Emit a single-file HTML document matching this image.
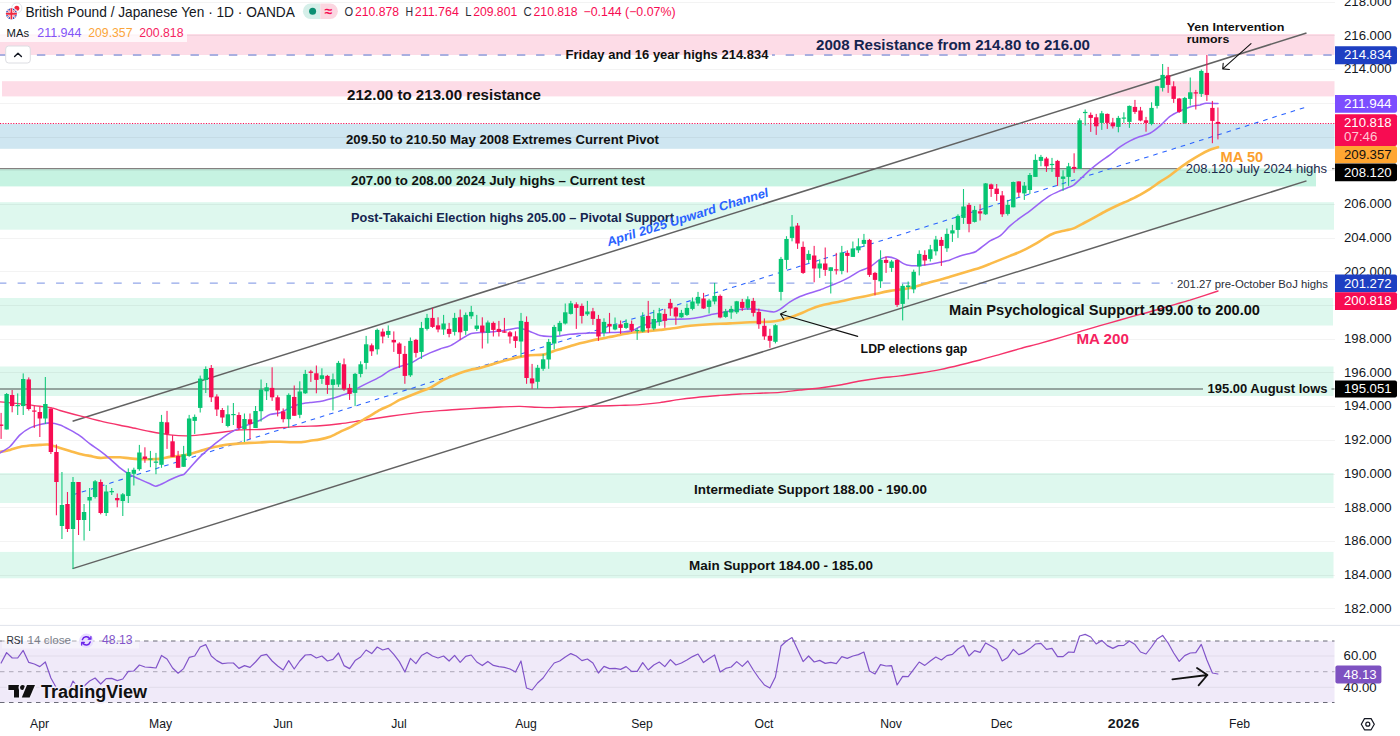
<!DOCTYPE html>
<html><head><meta charset="utf-8"><title>GBPJPY</title>
<style>html,body{margin:0;padding:0;background:#fff;}svg{display:block;font-family:'Liberation Sans', sans-serif;}</style>
</head><body>
<svg width="1400" height="736" viewBox="0 0 1400 736" font-family="'Liberation Sans', sans-serif">
<rect x="0" y="0" width="1400" height="736" fill="#ffffff" />
<rect x="0" y="34" width="1334.5" height="21" fill="#fddce7" />
<rect x="2" y="81.2" width="1332.5" height="15.2" fill="#fddce7" />
<rect x="0" y="123.9" width="1334.5" height="24.9" fill="#cfe6f1" />
<rect x="0" y="168.3" width="1316" height="18.1" fill="#c6f3e2" />
<rect x="0" y="202.2" width="1334.0" height="27.5" fill="#def8ee" />
<rect x="0" y="298" width="1333.0" height="27.5" fill="#def8ee" />
<rect x="0" y="366.5" width="1333.5" height="29.5" fill="#def8ee" />
<rect x="0" y="473" width="1333.5" height="30" fill="#def8ee" />
<rect x="0" y="551.9" width="1333.5" height="26.4" fill="#def8ee" />
<line x1="0" y1="608.5" x2="1335.0" y2="608.5" stroke="#000000" stroke-width="1" stroke-opacity="0.048"/>
<line x1="0" y1="575.5" x2="1335.0" y2="575.5" stroke="#000000" stroke-width="1" stroke-opacity="0.048"/>
<line x1="0" y1="541.5" x2="1335.0" y2="541.5" stroke="#000000" stroke-width="1" stroke-opacity="0.048"/>
<line x1="0" y1="507.5" x2="1335.0" y2="507.5" stroke="#000000" stroke-width="1" stroke-opacity="0.048"/>
<line x1="0" y1="474.5" x2="1335.0" y2="474.5" stroke="#000000" stroke-width="1" stroke-opacity="0.048"/>
<line x1="0" y1="440.5" x2="1335.0" y2="440.5" stroke="#000000" stroke-width="1" stroke-opacity="0.048"/>
<line x1="0" y1="406.5" x2="1335.0" y2="406.5" stroke="#000000" stroke-width="1" stroke-opacity="0.048"/>
<line x1="0" y1="372.5" x2="1335.0" y2="372.5" stroke="#000000" stroke-width="1" stroke-opacity="0.048"/>
<line x1="0" y1="339.5" x2="1335.0" y2="339.5" stroke="#000000" stroke-width="1" stroke-opacity="0.048"/>
<line x1="0" y1="305.5" x2="1335.0" y2="305.5" stroke="#000000" stroke-width="1" stroke-opacity="0.048"/>
<line x1="0" y1="271.5" x2="1335.0" y2="271.5" stroke="#000000" stroke-width="1" stroke-opacity="0.048"/>
<line x1="0" y1="238.5" x2="1335.0" y2="238.5" stroke="#000000" stroke-width="1" stroke-opacity="0.048"/>
<line x1="0" y1="204.5" x2="1335.0" y2="204.5" stroke="#000000" stroke-width="1" stroke-opacity="0.048"/>
<line x1="0" y1="170.5" x2="1335.0" y2="170.5" stroke="#000000" stroke-width="1" stroke-opacity="0.048"/>
<line x1="0" y1="137.5" x2="1335.0" y2="137.5" stroke="#000000" stroke-width="1" stroke-opacity="0.048"/>
<line x1="0" y1="103.5" x2="1335.0" y2="103.5" stroke="#000000" stroke-width="1" stroke-opacity="0.048"/>
<line x1="0" y1="69.5" x2="1335.0" y2="69.5" stroke="#000000" stroke-width="1" stroke-opacity="0.048"/>
<line x1="0" y1="35.5" x2="1335.0" y2="35.5" stroke="#000000" stroke-width="1" stroke-opacity="0.048"/>
<line x1="0" y1="2.5" x2="1335.0" y2="2.5" stroke="#000000" stroke-width="1" stroke-opacity="0.048"/>
<rect x="0" y="641" width="1334.5" height="61.5" fill="#f0eaf9" />
<line x1="0" y1="656" x2="1334.5" y2="656" stroke="#000000" stroke-width="1" stroke-opacity="0.06"/>
<line x1="0" y1="687.3" x2="1334.5" y2="687.3" stroke="#000000" stroke-width="1" stroke-opacity="0.06"/>
<line x1="0" y1="641" x2="1334.5" y2="641" stroke="#6b6b78" stroke-width="1.2" stroke-dasharray="4.5 4.5"/>
<line x1="0" y1="702.5" x2="1334.5" y2="702.5" stroke="#6b6b78" stroke-width="1.2" stroke-dasharray="4.5 4.5"/>
<line x1="0" y1="671.7" x2="1334.5" y2="671.7" stroke="#b9b4c4" stroke-width="1.2" stroke-dasharray="4.5 4.5"/>
<line x1="0" y1="168.6" x2="1180.5" y2="168.6" stroke="#858080" stroke-width="1.3" />
<line x1="1332" y1="168.6" x2="1334.5" y2="168.6" stroke="#858080" stroke-width="1.3" />
<line x1="0" y1="389" x2="1203" y2="389" stroke="#7d8a84" stroke-width="1.4" />
<line x1="1331.5" y1="389" x2="1334.5" y2="389" stroke="#7d8a84" stroke-width="1.4" />
<line x1="-1.5" y1="55" x2="561" y2="55" stroke="#a9afe0" stroke-width="2" stroke-dasharray="8.4 10.8"/>
<line x1="772" y1="55" x2="1334.5" y2="55" stroke="#a9afe0" stroke-width="2" stroke-dasharray="8.4 10.8" stroke-dashoffset="5.5"/>
<line x1="-1.6" y1="283.1" x2="1173" y2="283.1" stroke="#93a7e9" stroke-width="1.3" stroke-dasharray="8 11.22"/>
<line x1="0" y1="123.5" x2="1334.5" y2="123.5" stroke="#f70c52" stroke-width="1" stroke-dasharray="1.15 1.49"/>
<line x1="72.6" y1="421.3" x2="1306.5" y2="33.0" stroke="#626262" stroke-width="1.5" />
<line x1="72.6" y1="568.6" x2="1306.5" y2="180.9" stroke="#626262" stroke-width="1.5" />
<line x1="72.6" y1="494.9" x2="1306.5" y2="107.0" stroke="#2962ff" stroke-width="1.05" stroke-dasharray="4.6 5"/>
<path d="M0.0 401.9 C5.3 402.4 14.7 403.3 20.0 403.9 C25.3 404.5 34.7 405.6 40.0 406.3 C43.2 406.7 48.8 407.2 52.0 407.9 C54.1 408.3 57.9 409.9 60.0 410.5 C65.3 412.0 74.7 414.5 80.0 415.9 C85.3 417.3 94.7 419.6 100.0 420.9 C105.3 422.2 114.7 424.2 120.0 425.3 C122.7 425.9 127.3 426.6 130.0 427.2 C135.3 428.3 144.7 430.5 150.0 431.5 C155.3 432.5 164.7 434.2 170.0 434.9 C174.3 435.4 181.7 435.9 186.0 435.9 C189.7 435.9 196.3 435.3 200.0 434.9 C205.3 434.4 214.7 433.2 220.0 432.5 C225.3 431.8 234.7 430.3 240.0 429.9 C245.3 429.5 254.7 429.8 260.0 429.5 C265.3 429.2 274.7 428.2 280.0 427.8 C285.3 427.4 294.7 426.7 300.0 426.4 C305.3 426.1 314.7 426.1 320.0 425.8 C325.3 425.5 334.7 424.5 340.0 423.8 C345.3 423.1 354.7 421.6 360.0 420.8 C365.3 420.0 374.7 418.5 380.0 417.7 C385.3 416.9 394.7 415.6 400.0 414.9 C405.3 414.2 414.7 413.0 420.0 412.4 C425.3 411.8 434.7 411.0 440.0 410.6 C445.3 410.2 454.7 409.5 460.0 409.2 C465.3 408.9 474.7 408.3 480.0 408.0 C485.3 407.7 494.7 407.2 500.0 407.0 C505.3 406.8 514.7 406.3 520.0 406.4 C525.3 406.5 534.7 407.2 540.0 407.4 C542.7 407.5 547.3 407.6 550.0 407.6 C552.7 407.6 557.3 407.3 560.0 407.2 C565.3 407.0 574.7 406.8 580.0 406.6 C585.3 406.4 594.7 406.2 600.0 406.0 C605.3 405.8 614.7 405.6 620.0 405.4 C625.3 405.2 634.7 405.0 640.0 404.6 C645.3 404.2 654.7 403.3 660.0 402.6 C665.3 401.9 674.7 400.1 680.0 399.4 C685.3 398.7 694.7 397.5 700.0 397.0 C705.3 396.5 714.7 395.8 720.0 395.4 C725.3 395.0 734.7 394.3 740.0 394.0 C745.3 393.7 754.7 393.4 760.0 393.2 C765.3 393.0 774.7 392.8 780.0 392.4 C785.3 392.0 794.7 390.6 800.0 390.0 C805.3 389.4 814.7 388.7 820.0 388.0 C825.3 387.3 834.7 385.9 840.0 385.0 C845.3 384.1 854.7 381.9 860.0 381.0 C865.3 380.1 874.7 378.7 880.0 378.0 C885.3 377.3 894.7 376.6 900.0 375.9 C905.3 375.2 914.7 373.8 920.0 373.0 C925.3 372.2 934.7 370.7 940.0 369.6 C945.3 368.5 954.7 366.3 960.0 365.0 C965.3 363.7 974.7 361.4 980.0 360.0 C985.3 358.6 994.7 355.9 1000.0 354.4 C1005.3 352.9 1014.7 350.1 1020.0 348.6 C1025.3 347.1 1034.7 344.9 1040.0 343.4 C1045.3 341.9 1054.7 339.2 1060.0 337.6 C1065.3 336.0 1074.7 333.2 1080.0 331.6 C1085.3 330.0 1094.7 327.1 1100.0 325.6 C1105.3 324.1 1114.7 321.5 1120.0 320.0 C1125.3 318.5 1134.7 315.9 1140.0 314.4 C1145.3 312.9 1154.7 310.5 1160.0 309.0 C1165.3 307.5 1174.7 304.6 1180.0 303.0 C1182.7 302.2 1187.3 301.0 1190.0 300.2 C1197.5 297.8 1210.5 293.5 1218.0 291.0" fill="none" stroke="#f5336b" stroke-width="1.4" stroke-linejoin="round" stroke-linecap="round" />
<path d="M0.0 451.9 C2.7 451.4 7.3 450.6 10.0 449.9 C12.7 449.2 17.3 447.5 20.0 446.9 C22.7 446.3 27.3 445.8 30.0 445.5 C32.7 445.2 37.3 445.0 40.0 444.9 C42.1 444.8 45.9 444.2 48.0 444.5 C51.2 445.0 56.8 447.0 60.0 447.9 C62.7 448.7 67.3 450.1 70.0 450.9 C72.7 451.7 77.3 453.2 80.0 453.9 C82.7 454.6 87.3 455.4 90.0 455.9 C92.7 456.4 97.3 457.7 100.0 457.9 C102.7 458.1 107.3 457.4 110.0 457.3 C112.7 457.2 117.3 457.2 120.0 457.3 C122.7 457.4 127.3 458.2 130.0 458.4 C132.7 458.6 137.3 459.0 140.0 459.1 C142.7 459.2 147.3 459.3 150.0 459.3 C152.7 459.3 157.3 459.2 160.0 458.9 C162.7 458.6 167.3 457.3 170.0 456.9 C172.7 456.5 177.3 456.3 180.0 455.9 C182.7 455.5 187.3 454.6 190.0 453.9 C192.7 453.2 197.3 451.7 200.0 450.9 C202.7 450.1 207.3 448.6 210.0 447.9 C212.7 447.2 217.3 446.4 220.0 445.9 C222.7 445.4 227.3 444.6 230.0 444.3 C232.7 444.0 237.3 443.7 240.0 443.5 C242.7 443.3 247.3 443.0 250.0 442.9 C252.7 442.8 257.3 442.6 260.0 442.5 C262.7 442.4 267.3 441.9 270.0 441.8 C272.7 441.7 277.3 441.7 280.0 441.8 C282.7 441.9 287.3 442.1 290.0 442.2 C292.7 442.3 297.3 442.4 300.0 442.2 C302.7 442.0 307.3 441.2 310.0 440.8 C312.7 440.4 317.3 439.9 320.0 439.4 C322.7 438.9 327.3 437.8 330.0 436.8 C332.7 435.8 337.3 433.1 340.0 431.8 C342.7 430.5 347.3 428.7 350.0 427.4 C352.7 426.1 357.3 423.3 360.0 421.8 C362.7 420.3 367.3 417.4 370.0 415.8 C372.7 414.2 377.3 411.2 380.0 409.8 C382.7 408.4 387.3 406.6 390.0 405.3 C392.7 404.0 397.3 401.0 400.0 399.7 C402.7 398.4 407.3 396.9 410.0 395.8 C412.7 394.7 417.3 392.9 420.0 391.8 C422.7 390.7 427.3 389.1 430.0 387.8 C432.7 386.5 437.3 383.3 440.0 381.8 C442.7 380.3 447.3 378.1 450.0 376.9 C452.7 375.7 457.3 373.8 460.0 372.9 C462.7 372.0 467.3 370.6 470.0 369.9 C472.7 369.2 477.3 368.6 480.0 367.9 C482.7 367.2 487.3 365.7 490.0 364.9 C492.7 364.1 497.3 362.6 500.0 361.9 C502.7 361.2 507.3 360.0 510.0 359.3 C512.7 358.6 517.3 357.4 520.0 356.9 C522.7 356.4 527.3 355.5 530.0 355.2 C532.7 354.9 537.3 355.1 540.0 354.9 C541.6 354.8 544.4 354.4 546.0 353.9 C548.1 353.3 551.9 351.6 554.0 350.9 C555.6 350.4 558.4 349.8 560.0 349.3 C562.7 348.5 567.3 347.1 570.0 346.3 C572.7 345.5 577.3 344.0 580.0 343.3 C582.7 342.6 587.3 341.5 590.0 340.9 C592.7 340.3 597.3 339.4 600.0 338.9 C602.7 338.4 607.3 337.4 610.0 336.9 C612.7 336.4 617.3 335.4 620.0 334.9 C622.7 334.4 627.3 333.3 630.0 332.9 C632.7 332.5 637.3 332.2 640.0 331.9 C642.7 331.6 647.3 331.2 650.0 330.9 C652.7 330.6 657.3 330.2 660.0 329.9 C662.7 329.6 667.3 329.2 670.0 328.8 C675.3 328.1 684.7 326.4 690.0 325.8 C695.3 325.2 704.7 324.5 710.0 324.2 C715.3 323.9 724.7 323.7 730.0 323.4 C735.3 323.1 744.7 322.4 750.0 322.2 C755.3 322.0 764.7 322.1 770.0 321.8 C772.7 321.6 777.3 320.9 780.0 320.3 C782.7 319.7 787.3 318.5 790.0 317.6 C792.7 316.7 797.3 314.9 800.0 313.8 C802.7 312.7 807.3 310.5 810.0 309.4 C812.7 308.3 817.3 306.6 820.0 305.8 C822.7 305.0 827.3 304.1 830.0 303.5 C832.7 302.9 837.3 302.1 840.0 301.5 C842.7 300.9 847.3 299.9 850.0 299.3 C852.7 298.7 857.3 297.8 860.0 297.3 C862.7 296.8 867.3 295.9 870.0 295.3 C872.7 294.7 877.3 293.5 880.0 292.9 C882.7 292.3 887.3 291.4 890.0 290.9 C892.7 290.4 897.3 289.9 900.0 289.5 C902.7 289.1 907.3 288.5 910.0 287.9 C912.7 287.3 917.3 286.1 920.0 285.3 C922.7 284.5 927.3 282.9 930.0 282.2 C932.7 281.5 937.3 280.5 940.0 279.8 C942.7 279.1 947.3 277.6 950.0 276.8 C952.7 276.0 957.3 274.6 960.0 273.8 C962.7 273.0 967.3 271.6 970.0 270.8 C972.7 270.0 977.3 268.7 980.0 267.8 C982.7 266.9 987.3 265.0 990.0 263.9 C992.7 262.8 997.3 261.0 1000.0 259.9 C1002.7 258.8 1007.3 257.0 1010.0 255.9 C1012.7 254.8 1017.3 253.1 1020.0 251.9 C1022.7 250.7 1027.3 248.3 1030.0 246.9 C1032.7 245.5 1037.3 242.8 1040.0 241.2 C1041.3 240.4 1043.7 238.6 1045.0 237.8 C1047.4 236.4 1051.6 234.2 1054.0 233.3 C1056.9 232.2 1062.1 231.2 1065.0 230.5 C1067.3 229.9 1071.2 229.3 1073.5 228.4 C1076.3 227.3 1081.2 224.5 1084.0 223.0 C1086.9 221.5 1092.1 218.7 1095.0 217.1 C1097.9 215.5 1103.1 212.5 1106.0 211.0 C1109.7 209.1 1116.3 205.9 1120.0 204.2 C1122.7 203.0 1127.3 201.1 1130.0 199.8 C1132.7 198.5 1137.3 196.3 1140.0 194.8 C1142.7 193.3 1147.3 190.5 1150.0 188.8 C1152.7 187.1 1157.3 183.7 1160.0 181.9 C1162.7 180.1 1167.3 177.4 1170.0 175.5 C1172.7 173.6 1177.3 169.8 1180.0 167.8 C1182.7 165.8 1187.3 162.5 1190.0 160.8 C1192.7 159.1 1197.3 156.3 1200.0 154.8 C1202.7 153.3 1207.3 150.9 1210.0 149.8 C1212.1 148.9 1215.9 147.9 1218.0 147.2" fill="none" stroke="#fbbb4a" stroke-width="2.6" stroke-linejoin="round" stroke-linecap="round" />
<path d="M0.0 452.9 C2.7 451.2 7.3 448.9 10.0 446.5 C12.7 444.1 17.3 437.4 20.0 434.9 C22.7 432.4 27.3 429.3 30.0 427.9 C32.7 426.5 37.3 425.2 40.0 424.5 C42.7 423.8 47.3 422.8 50.0 422.9 C52.7 423.0 57.3 424.0 60.0 424.9 C62.7 425.8 67.3 428.4 70.0 429.9 C72.7 431.4 77.3 434.0 80.0 435.9 C82.7 437.8 87.3 441.9 90.0 443.9 C92.7 445.9 97.3 448.9 100.0 450.9 C102.7 452.9 107.3 456.6 110.0 458.9 C112.7 461.2 117.3 465.8 120.0 467.9 C122.7 470.0 127.3 473.3 130.0 474.8 C132.7 476.3 137.3 478.2 140.0 479.4 C142.7 480.6 147.3 482.6 150.0 483.8 C151.5 484.5 154.1 486.1 155.6 486.2 C156.8 486.3 158.8 485.3 160.0 484.8 C162.7 483.6 167.3 481.1 170.0 479.8 C172.7 478.5 177.3 476.4 180.0 475.4 C181.1 475.0 182.9 475.2 184.0 474.4 C185.6 473.2 188.4 469.6 190.0 467.8 C192.7 464.9 197.3 459.6 200.0 456.9 C202.7 454.2 207.3 450.2 210.0 447.9 C212.7 445.6 217.3 441.9 220.0 439.9 C222.7 437.9 227.3 434.5 230.0 432.9 C232.7 431.3 237.3 429.1 240.0 427.9 C242.7 426.7 247.3 424.9 250.0 423.9 C252.7 422.9 257.3 421.5 260.0 420.3 C262.7 419.1 267.3 415.6 270.0 414.6 C272.7 413.6 277.3 413.7 280.0 412.8 C282.7 411.9 287.3 409.0 290.0 407.8 C292.7 406.6 297.3 404.6 300.0 403.9 C302.7 403.2 307.3 402.8 310.0 402.5 C312.7 402.2 317.3 402.0 320.0 401.5 C322.7 401.0 327.3 399.6 330.0 398.9 C332.7 398.2 337.3 396.8 340.0 395.9 C342.7 395.0 347.3 393.7 350.0 392.5 C352.7 391.3 357.3 388.3 360.0 386.9 C362.7 385.5 367.3 383.2 370.0 381.9 C372.7 380.6 377.3 378.4 380.0 376.9 C382.7 375.4 387.3 371.8 390.0 370.4 C392.7 369.0 397.3 367.3 400.0 366.4 C402.7 365.5 407.3 364.6 410.0 363.5 C412.7 362.4 417.3 359.3 420.0 357.9 C422.7 356.5 427.3 354.1 430.0 352.9 C432.7 351.7 437.3 349.8 440.0 348.9 C442.7 348.0 447.3 347.1 450.0 345.9 C452.7 344.7 457.3 341.5 460.0 339.9 C462.7 338.3 467.3 334.9 470.0 333.9 C472.7 332.9 477.3 332.8 480.0 332.5 C482.7 332.2 487.3 332.1 490.0 331.9 C492.7 331.7 497.3 331.2 500.0 330.9 C502.7 330.6 507.3 329.7 510.0 329.3 C512.1 328.9 515.9 327.9 518.0 327.9 C519.9 327.9 523.1 328.9 525.0 329.5 C526.3 329.9 528.7 331.0 530.0 331.5 C532.7 332.6 537.3 334.8 540.0 335.5 C542.7 336.2 547.3 336.4 550.0 336.5 C552.7 336.6 557.3 336.2 560.0 335.9 C562.7 335.6 567.3 334.6 570.0 334.3 C572.7 334.0 577.3 333.7 580.0 333.5 C582.7 333.3 587.3 333.0 590.0 332.9 C592.7 332.8 597.3 333.0 600.0 333.0 C602.9 333.0 608.1 332.7 611.0 332.6 C613.9 332.5 619.1 332.3 622.0 332.0 C624.7 331.8 629.3 331.6 632.0 330.8 C634.1 330.2 637.9 327.7 640.0 326.8 C642.1 325.9 645.9 324.6 648.0 324.0 C650.4 323.3 654.6 322.4 657.0 321.8 C659.9 321.1 665.1 319.7 668.0 319.3 C670.4 319.0 674.6 319.3 677.0 319.2 C680.5 319.1 686.5 319.0 690.0 318.7 C692.7 318.5 697.3 317.7 700.0 317.2 C702.7 316.7 707.3 315.5 710.0 314.9 C715.3 313.8 724.7 311.8 730.0 310.9 C734.3 310.2 741.7 309.0 746.0 308.9 C749.7 308.8 756.3 309.5 760.0 309.9 C763.7 310.3 770.3 312.0 774.0 311.9 C775.6 311.9 778.4 310.4 780.0 309.4 C782.7 307.7 787.3 303.6 790.0 301.9 C792.7 300.2 797.3 297.7 800.0 296.5 C802.7 295.3 807.3 293.8 810.0 292.9 C812.7 292.0 817.3 290.8 820.0 289.9 C822.7 289.0 827.3 287.0 830.0 285.9 C832.7 284.8 837.3 283.1 840.0 281.9 C842.7 280.7 847.3 278.4 850.0 276.9 C852.7 275.4 857.3 272.2 860.0 270.9 C862.7 269.6 867.3 268.4 870.0 266.9 C872.7 265.4 877.3 260.9 880.0 259.3 C881.9 258.2 885.1 256.9 887.0 256.9 C889.4 256.8 893.6 257.9 896.0 258.9 C898.1 259.8 901.9 262.9 904.0 263.9 C905.6 264.7 908.4 265.4 910.0 265.5 C912.7 265.8 917.3 265.6 920.0 265.4 C922.7 265.2 927.3 264.7 930.0 264.3 C932.7 263.9 937.3 262.9 940.0 262.3 C942.7 261.7 947.3 260.8 950.0 259.9 C952.7 259.0 957.3 256.8 960.0 255.9 C962.7 255.0 967.3 254.2 970.0 253.5 C971.6 253.1 974.4 252.5 976.0 251.5 C979.7 249.1 986.3 243.3 990.0 240.9 C992.7 239.2 997.3 237.9 1000.0 235.9 C1002.7 233.9 1007.3 228.3 1010.0 225.9 C1012.7 223.5 1017.3 219.9 1020.0 217.9 C1022.7 215.9 1027.3 212.8 1030.0 210.8 C1032.7 208.8 1037.3 204.8 1040.0 202.8 C1042.7 200.8 1047.3 197.2 1050.0 195.6 C1052.7 194.0 1057.3 192.0 1060.0 190.8 C1062.7 189.6 1067.3 187.9 1070.0 186.8 C1071.1 186.3 1072.9 185.7 1074.0 184.8 C1078.3 181.2 1085.7 173.7 1090.0 169.9 C1092.7 167.6 1097.3 163.9 1100.0 161.9 C1102.7 159.9 1107.3 156.9 1110.0 154.9 C1112.7 152.9 1117.3 148.8 1120.0 146.9 C1122.7 145.0 1127.3 142.3 1130.0 140.9 C1132.7 139.5 1137.3 137.6 1140.0 136.6 C1142.7 135.6 1147.3 134.7 1150.0 133.3 C1152.7 131.9 1157.3 128.2 1160.0 125.9 C1162.7 123.6 1167.3 118.4 1170.0 116.4 C1172.7 114.4 1177.3 112.2 1180.0 110.9 C1182.7 109.6 1187.3 107.7 1190.0 106.9 C1192.7 106.1 1197.3 105.5 1200.0 104.9 C1201.6 104.5 1204.4 103.4 1206.0 103.3 C1209.2 103.1 1214.8 103.4 1218.0 103.5" fill="none" stroke="#9a63f5" stroke-width="1.55" stroke-linejoin="round" stroke-linecap="round" />
<rect x="0.55" y="412.9" width="1.1" height="26.0" fill="#f70c52" fill-opacity="0.92"/>
<rect x="-1.10" y="424.5" width="4.4" height="1.4" fill="#f70c52" />
<rect x="6.08" y="393.0" width="1.1" height="36.5" fill="#07c573" fill-opacity="0.92"/>
<rect x="4.43" y="394.0" width="4.4" height="35.5" fill="#07c573" />
<rect x="11.61" y="390.0" width="1.1" height="22.3" fill="#f70c52" fill-opacity="0.92"/>
<rect x="9.96" y="395.0" width="4.4" height="11.0" fill="#f70c52" />
<rect x="17.14" y="393.4" width="1.1" height="21.6" fill="#07c573" fill-opacity="0.92"/>
<rect x="15.49" y="405.0" width="4.4" height="1.2" fill="#07c573" />
<rect x="22.67" y="373.4" width="1.1" height="41.6" fill="#07c573" fill-opacity="0.92"/>
<rect x="21.02" y="379.0" width="4.4" height="27.0" fill="#07c573" />
<rect x="28.20" y="377.4" width="1.1" height="33.1" fill="#f70c52" fill-opacity="0.92"/>
<rect x="26.55" y="379.4" width="4.4" height="29.6" fill="#f70c52" />
<rect x="33.74" y="406.0" width="1.1" height="22.0" fill="#f70c52" fill-opacity="0.92"/>
<rect x="32.09" y="410.5" width="4.4" height="1.2" fill="#f70c52" />
<rect x="39.27" y="407.0" width="1.1" height="30.0" fill="#f70c52" fill-opacity="0.92"/>
<rect x="37.62" y="412.0" width="4.4" height="6.5" fill="#f70c52" />
<rect x="44.80" y="377.0" width="1.1" height="47.0" fill="#07c573" fill-opacity="0.92"/>
<rect x="43.15" y="404.0" width="4.4" height="14.5" fill="#07c573" />
<rect x="50.33" y="408.5" width="1.1" height="45.5" fill="#f70c52" fill-opacity="0.92"/>
<rect x="48.68" y="408.5" width="4.4" height="43.5" fill="#f70c52" />
<rect x="55.86" y="444.4" width="1.1" height="70.9" fill="#f70c52" fill-opacity="0.92"/>
<rect x="54.21" y="452.0" width="4.4" height="30.0" fill="#f70c52" />
<rect x="61.39" y="472.0" width="1.1" height="67.0" fill="#07c573" fill-opacity="0.92"/>
<rect x="59.74" y="505.0" width="4.4" height="21.0" fill="#07c573" />
<rect x="66.92" y="492.0" width="1.1" height="40.0" fill="#f70c52" fill-opacity="0.92"/>
<rect x="65.27" y="504.0" width="4.4" height="25.0" fill="#f70c52" />
<rect x="72.45" y="477.0" width="1.1" height="92.0" fill="#07c573" fill-opacity="0.92"/>
<rect x="70.80" y="482.0" width="4.4" height="47.0" fill="#07c573" />
<rect x="77.98" y="482.0" width="1.1" height="53.0" fill="#f70c52" fill-opacity="0.92"/>
<rect x="76.33" y="482.0" width="4.4" height="38.0" fill="#f70c52" />
<rect x="83.51" y="504.0" width="1.1" height="36.5" fill="#07c573" fill-opacity="0.92"/>
<rect x="81.86" y="512.0" width="4.4" height="8.0" fill="#07c573" />
<rect x="89.05" y="488.0" width="1.1" height="43.0" fill="#07c573" fill-opacity="0.92"/>
<rect x="87.40" y="497.0" width="4.4" height="3.5" fill="#07c573" />
<rect x="94.58" y="480.0" width="1.1" height="18.5" fill="#07c573" fill-opacity="0.92"/>
<rect x="92.93" y="481.3" width="4.4" height="15.7" fill="#07c573" />
<rect x="100.11" y="479.5" width="1.1" height="34.8" fill="#f70c52" fill-opacity="0.92"/>
<rect x="98.46" y="482.0" width="4.4" height="31.0" fill="#f70c52" />
<rect x="105.64" y="485.0" width="1.1" height="31.0" fill="#07c573" fill-opacity="0.92"/>
<rect x="103.99" y="491.5" width="4.4" height="21.5" fill="#07c573" />
<rect x="111.17" y="488.0" width="1.1" height="7.0" fill="#07c573" fill-opacity="0.92"/>
<rect x="109.52" y="491.0" width="4.4" height="1.3" fill="#07c573" />
<rect x="116.70" y="493.5" width="1.1" height="13.8" fill="#f70c52" fill-opacity="0.92"/>
<rect x="115.05" y="498.0" width="4.4" height="2.3" fill="#f70c52" />
<rect x="122.23" y="493.0" width="1.1" height="23.0" fill="#07c573" fill-opacity="0.92"/>
<rect x="120.58" y="494.3" width="4.4" height="6.7" fill="#07c573" />
<rect x="127.76" y="468.4" width="1.1" height="34.6" fill="#07c573" fill-opacity="0.92"/>
<rect x="126.11" y="472.0" width="4.4" height="24.0" fill="#07c573" />
<rect x="133.29" y="467.7" width="1.1" height="17.8" fill="#07c573" fill-opacity="0.92"/>
<rect x="131.64" y="469.8" width="4.4" height="4.0" fill="#07c573" />
<rect x="138.82" y="444.9" width="1.1" height="25.9" fill="#07c573" fill-opacity="0.92"/>
<rect x="137.18" y="452.5" width="4.4" height="16.7" fill="#07c573" />
<rect x="144.36" y="447.3" width="1.1" height="15.5" fill="#f70c52" fill-opacity="0.92"/>
<rect x="142.71" y="456.5" width="4.4" height="2.4" fill="#f70c52" />
<rect x="149.89" y="450.9" width="1.1" height="16.3" fill="#07c573" fill-opacity="0.92"/>
<rect x="148.24" y="458.5" width="4.4" height="1.2" fill="#07c573" />
<rect x="155.42" y="452.9" width="1.1" height="21.3" fill="#07c573" fill-opacity="0.92"/>
<rect x="153.77" y="461.5" width="4.4" height="1.3" fill="#07c573" />
<rect x="160.95" y="414.9" width="1.1" height="52.9" fill="#07c573" fill-opacity="0.92"/>
<rect x="159.30" y="421.9" width="4.4" height="42.9" fill="#07c573" />
<rect x="166.48" y="410.9" width="1.1" height="38.0" fill="#f70c52" fill-opacity="0.92"/>
<rect x="164.83" y="422.3" width="4.4" height="11.6" fill="#f70c52" />
<rect x="172.01" y="435.3" width="1.1" height="21.6" fill="#f70c52" fill-opacity="0.92"/>
<rect x="170.36" y="441.3" width="4.4" height="15.6" fill="#f70c52" />
<rect x="177.54" y="450.9" width="1.1" height="16.9" fill="#f70c52" fill-opacity="0.92"/>
<rect x="175.89" y="455.9" width="4.4" height="11.9" fill="#f70c52" />
<rect x="183.07" y="445.9" width="1.1" height="20.9" fill="#07c573" fill-opacity="0.92"/>
<rect x="181.42" y="454.3" width="4.4" height="12.5" fill="#07c573" />
<rect x="188.60" y="414.9" width="1.1" height="42.0" fill="#07c573" fill-opacity="0.92"/>
<rect x="186.95" y="418.5" width="4.4" height="37.4" fill="#07c573" />
<rect x="194.13" y="414.5" width="1.1" height="19.4" fill="#07c573" fill-opacity="0.92"/>
<rect x="192.48" y="416.9" width="4.4" height="4.0" fill="#07c573" />
<rect x="199.67" y="375.6" width="1.1" height="36.9" fill="#07c573" fill-opacity="0.92"/>
<rect x="198.02" y="378.6" width="4.4" height="29.3" fill="#07c573" />
<rect x="205.20" y="366.4" width="1.1" height="26.6" fill="#07c573" fill-opacity="0.92"/>
<rect x="203.55" y="369.0" width="4.4" height="11.0" fill="#07c573" />
<rect x="210.73" y="365.0" width="1.1" height="37.0" fill="#f70c52" fill-opacity="0.92"/>
<rect x="209.08" y="368.0" width="4.4" height="29.3" fill="#f70c52" />
<rect x="216.26" y="394.3" width="1.1" height="21.7" fill="#f70c52" fill-opacity="0.92"/>
<rect x="214.61" y="396.5" width="4.4" height="13.0" fill="#f70c52" />
<rect x="221.79" y="408.0" width="1.1" height="15.0" fill="#f70c52" fill-opacity="0.92"/>
<rect x="220.14" y="410.0" width="4.4" height="7.5" fill="#f70c52" />
<rect x="227.32" y="405.5" width="1.1" height="21.8" fill="#07c573" fill-opacity="0.92"/>
<rect x="225.67" y="414.3" width="4.4" height="11.7" fill="#07c573" />
<rect x="232.85" y="403.0" width="1.1" height="22.0" fill="#07c573" fill-opacity="0.92"/>
<rect x="231.20" y="414.0" width="4.4" height="1.2" fill="#07c573" />
<rect x="238.38" y="412.3" width="1.1" height="17.7" fill="#f70c52" fill-opacity="0.92"/>
<rect x="236.73" y="415.0" width="4.4" height="13.0" fill="#f70c52" />
<rect x="243.91" y="413.5" width="1.1" height="28.5" fill="#07c573" fill-opacity="0.92"/>
<rect x="242.26" y="419.0" width="4.4" height="10.0" fill="#07c573" />
<rect x="249.44" y="413.5" width="1.1" height="25.5" fill="#f70c52" fill-opacity="0.92"/>
<rect x="247.79" y="419.3" width="4.4" height="4.7" fill="#f70c52" />
<rect x="254.98" y="406.0" width="1.1" height="22.0" fill="#07c573" fill-opacity="0.92"/>
<rect x="253.33" y="411.0" width="4.4" height="17.0" fill="#07c573" />
<rect x="260.51" y="379.5" width="1.1" height="42.1" fill="#07c573" fill-opacity="0.92"/>
<rect x="258.86" y="389.6" width="4.4" height="21.6" fill="#07c573" />
<rect x="266.04" y="383.0" width="1.1" height="17.0" fill="#07c573" fill-opacity="0.92"/>
<rect x="264.39" y="387.3" width="4.4" height="4.0" fill="#07c573" />
<rect x="271.57" y="367.3" width="1.1" height="33.6" fill="#f70c52" fill-opacity="0.92"/>
<rect x="269.92" y="387.9" width="4.4" height="9.4" fill="#f70c52" />
<rect x="277.10" y="395.3" width="1.1" height="21.1" fill="#f70c52" fill-opacity="0.92"/>
<rect x="275.45" y="397.3" width="4.4" height="13.1" fill="#f70c52" />
<rect x="282.63" y="408.4" width="1.1" height="14.0" fill="#f70c52" fill-opacity="0.92"/>
<rect x="280.98" y="411.4" width="4.4" height="7.8" fill="#f70c52" />
<rect x="288.16" y="393.3" width="1.1" height="34.5" fill="#07c573" fill-opacity="0.92"/>
<rect x="286.51" y="394.9" width="4.4" height="24.3" fill="#07c573" />
<rect x="293.69" y="385.5" width="1.1" height="30.3" fill="#f70c52" fill-opacity="0.92"/>
<rect x="292.04" y="396.9" width="4.4" height="18.9" fill="#f70c52" />
<rect x="299.22" y="381.3" width="1.1" height="36.9" fill="#07c573" fill-opacity="0.92"/>
<rect x="297.57" y="391.5" width="4.4" height="23.3" fill="#07c573" />
<rect x="304.75" y="369.9" width="1.1" height="24.0" fill="#07c573" fill-opacity="0.92"/>
<rect x="303.11" y="373.9" width="4.4" height="19.4" fill="#07c573" />
<rect x="310.29" y="369.9" width="1.1" height="12.0" fill="#f70c52" fill-opacity="0.92"/>
<rect x="308.64" y="371.5" width="4.4" height="1.4" fill="#f70c52" />
<rect x="315.82" y="365.5" width="1.1" height="27.8" fill="#f70c52" fill-opacity="0.92"/>
<rect x="314.17" y="373.3" width="4.4" height="6.6" fill="#f70c52" />
<rect x="321.35" y="368.3" width="1.1" height="15.6" fill="#07c573" fill-opacity="0.92"/>
<rect x="319.70" y="375.3" width="4.4" height="3.6" fill="#07c573" />
<rect x="326.88" y="374.9" width="1.1" height="19.0" fill="#f70c52" fill-opacity="0.92"/>
<rect x="325.23" y="375.9" width="4.4" height="9.0" fill="#f70c52" />
<rect x="332.41" y="373.5" width="1.1" height="36.9" fill="#07c573" fill-opacity="0.92"/>
<rect x="330.76" y="379.3" width="4.4" height="5.6" fill="#07c573" />
<rect x="337.94" y="360.9" width="1.1" height="26.0" fill="#07c573" fill-opacity="0.92"/>
<rect x="336.29" y="362.9" width="4.4" height="21.6" fill="#07c573" />
<rect x="343.47" y="358.5" width="1.1" height="32.4" fill="#f70c52" fill-opacity="0.92"/>
<rect x="341.82" y="364.3" width="4.4" height="25.0" fill="#f70c52" />
<rect x="349.00" y="383.9" width="1.1" height="16.0" fill="#f70c52" fill-opacity="0.92"/>
<rect x="347.35" y="387.9" width="4.4" height="6.0" fill="#f70c52" />
<rect x="354.53" y="372.9" width="1.1" height="33.0" fill="#07c573" fill-opacity="0.92"/>
<rect x="352.88" y="373.9" width="4.4" height="19.0" fill="#07c573" />
<rect x="360.06" y="361.3" width="1.1" height="16.0" fill="#07c573" fill-opacity="0.92"/>
<rect x="358.42" y="364.3" width="4.4" height="9.6" fill="#07c573" />
<rect x="365.60" y="335.9" width="1.1" height="33.4" fill="#07c573" fill-opacity="0.92"/>
<rect x="363.95" y="344.3" width="4.4" height="18.6" fill="#07c573" />
<rect x="371.13" y="343.5" width="1.1" height="12.4" fill="#f70c52" fill-opacity="0.92"/>
<rect x="369.48" y="345.3" width="4.4" height="6.0" fill="#f70c52" />
<rect x="376.66" y="328.6" width="1.1" height="25.9" fill="#07c573" fill-opacity="0.92"/>
<rect x="375.01" y="329.9" width="4.4" height="19.4" fill="#07c573" />
<rect x="382.19" y="328.6" width="1.1" height="14.7" fill="#f70c52" fill-opacity="0.92"/>
<rect x="380.54" y="331.6" width="4.4" height="4.9" fill="#f70c52" />
<rect x="387.72" y="325.4" width="1.1" height="12.5" fill="#07c573" fill-opacity="0.92"/>
<rect x="386.07" y="330.9" width="4.4" height="4.0" fill="#07c573" />
<rect x="393.25" y="331.4" width="1.1" height="20.5" fill="#f70c52" fill-opacity="0.92"/>
<rect x="391.60" y="339.9" width="4.4" height="2.5" fill="#f70c52" />
<rect x="398.78" y="342.3" width="1.1" height="25.6" fill="#f70c52" fill-opacity="0.92"/>
<rect x="397.13" y="343.5" width="4.4" height="10.4" fill="#f70c52" />
<rect x="404.31" y="345.9" width="1.1" height="37.9" fill="#f70c52" fill-opacity="0.92"/>
<rect x="402.66" y="353.9" width="4.4" height="22.0" fill="#f70c52" />
<rect x="409.84" y="337.5" width="1.1" height="39.4" fill="#07c573" fill-opacity="0.92"/>
<rect x="408.19" y="340.9" width="4.4" height="34.4" fill="#07c573" />
<rect x="415.38" y="338.9" width="1.1" height="18.6" fill="#f70c52" fill-opacity="0.92"/>
<rect x="413.73" y="339.9" width="4.4" height="13.0" fill="#f70c52" />
<rect x="420.91" y="321.9" width="1.1" height="37.0" fill="#07c573" fill-opacity="0.92"/>
<rect x="419.26" y="327.9" width="4.4" height="24.0" fill="#07c573" />
<rect x="426.44" y="313.9" width="1.1" height="16.6" fill="#07c573" fill-opacity="0.92"/>
<rect x="424.79" y="317.9" width="4.4" height="11.0" fill="#07c573" />
<rect x="431.97" y="307.9" width="1.1" height="20.0" fill="#f70c52" fill-opacity="0.92"/>
<rect x="430.32" y="317.9" width="4.4" height="9.0" fill="#f70c52" />
<rect x="437.50" y="317.3" width="1.1" height="15.0" fill="#f70c52" fill-opacity="0.92"/>
<rect x="435.85" y="325.3" width="4.4" height="4.2" fill="#f70c52" />
<rect x="443.03" y="314.9" width="1.1" height="20.0" fill="#07c573" fill-opacity="0.92"/>
<rect x="441.38" y="323.5" width="4.4" height="6.0" fill="#07c573" />
<rect x="448.56" y="322.9" width="1.1" height="14.4" fill="#f70c52" fill-opacity="0.92"/>
<rect x="446.91" y="328.9" width="4.4" height="5.0" fill="#f70c52" />
<rect x="454.09" y="312.9" width="1.1" height="22.6" fill="#07c573" fill-opacity="0.92"/>
<rect x="452.44" y="317.9" width="4.4" height="14.0" fill="#07c573" />
<rect x="459.62" y="309.5" width="1.1" height="30.4" fill="#f70c52" fill-opacity="0.92"/>
<rect x="457.97" y="317.3" width="4.4" height="15.0" fill="#f70c52" />
<rect x="465.15" y="312.5" width="1.1" height="22.4" fill="#07c573" fill-opacity="0.92"/>
<rect x="463.50" y="314.9" width="4.4" height="16.0" fill="#07c573" />
<rect x="470.69" y="305.9" width="1.1" height="13.0" fill="#07c573" fill-opacity="0.92"/>
<rect x="469.04" y="311.9" width="4.4" height="4.4" fill="#07c573" />
<rect x="476.22" y="314.9" width="1.1" height="16.0" fill="#07c573" fill-opacity="0.92"/>
<rect x="474.57" y="325.5" width="4.4" height="3.4" fill="#07c573" />
<rect x="481.75" y="317.3" width="1.1" height="31.2" fill="#f70c52" fill-opacity="0.92"/>
<rect x="480.10" y="325.5" width="4.4" height="6.8" fill="#f70c52" />
<rect x="487.28" y="320.5" width="1.1" height="23.0" fill="#07c573" fill-opacity="0.92"/>
<rect x="485.63" y="322.5" width="4.4" height="10.4" fill="#07c573" />
<rect x="492.81" y="321.5" width="1.1" height="15.0" fill="#f70c52" fill-opacity="0.92"/>
<rect x="491.16" y="322.9" width="4.4" height="7.0" fill="#f70c52" />
<rect x="498.34" y="320.9" width="1.1" height="15.6" fill="#f70c52" fill-opacity="0.92"/>
<rect x="496.69" y="328.9" width="4.4" height="3.0" fill="#f70c52" />
<rect x="503.87" y="317.9" width="1.1" height="14.8" fill="#f70c52" fill-opacity="0.92"/>
<rect x="502.22" y="331.3" width="4.4" height="1.4" fill="#f70c52" />
<rect x="509.40" y="330.9" width="1.1" height="12.6" fill="#f70c52" fill-opacity="0.92"/>
<rect x="507.75" y="332.3" width="4.4" height="4.2" fill="#f70c52" />
<rect x="514.93" y="331.3" width="1.1" height="16.6" fill="#f70c52" fill-opacity="0.92"/>
<rect x="513.28" y="336.3" width="4.4" height="4.6" fill="#f70c52" />
<rect x="520.46" y="312.9" width="1.1" height="44.0" fill="#07c573" fill-opacity="0.92"/>
<rect x="518.81" y="320.9" width="4.4" height="20.6" fill="#07c573" />
<rect x="526.00" y="316.4" width="1.1" height="67.4" fill="#f70c52" fill-opacity="0.92"/>
<rect x="524.34" y="321.9" width="4.4" height="56.1" fill="#f70c52" />
<rect x="531.53" y="363.9" width="1.1" height="24.9" fill="#f70c52" fill-opacity="0.92"/>
<rect x="529.88" y="378.4" width="4.4" height="5.0" fill="#f70c52" />
<rect x="537.06" y="364.9" width="1.1" height="23.9" fill="#07c573" fill-opacity="0.92"/>
<rect x="535.41" y="367.8" width="4.4" height="14.0" fill="#07c573" />
<rect x="542.59" y="353.9" width="1.1" height="16.9" fill="#07c573" fill-opacity="0.92"/>
<rect x="540.94" y="359.3" width="4.4" height="9.5" fill="#07c573" />
<rect x="548.12" y="338.9" width="1.1" height="29.9" fill="#07c573" fill-opacity="0.92"/>
<rect x="546.47" y="341.9" width="4.4" height="17.6" fill="#07c573" />
<rect x="553.65" y="324.9" width="1.1" height="24.4" fill="#07c573" fill-opacity="0.92"/>
<rect x="552.00" y="326.9" width="4.4" height="16.6" fill="#07c573" />
<rect x="559.18" y="320.9" width="1.1" height="14.6" fill="#07c573" fill-opacity="0.92"/>
<rect x="557.53" y="322.9" width="4.4" height="8.4" fill="#07c573" />
<rect x="564.71" y="303.5" width="1.1" height="21.0" fill="#07c573" fill-opacity="0.92"/>
<rect x="563.06" y="312.3" width="4.4" height="11.2" fill="#07c573" />
<rect x="570.24" y="300.9" width="1.1" height="13.6" fill="#07c573" fill-opacity="0.92"/>
<rect x="568.59" y="303.3" width="4.4" height="10.6" fill="#07c573" />
<rect x="575.77" y="302.3" width="1.1" height="26.6" fill="#f70c52" fill-opacity="0.92"/>
<rect x="574.12" y="304.3" width="4.4" height="3.6" fill="#f70c52" />
<rect x="581.31" y="303.5" width="1.1" height="20.0" fill="#f70c52" fill-opacity="0.92"/>
<rect x="579.65" y="305.9" width="4.4" height="10.0" fill="#f70c52" />
<rect x="586.84" y="300.9" width="1.1" height="15.0" fill="#07c573" fill-opacity="0.92"/>
<rect x="585.19" y="311.5" width="4.4" height="2.8" fill="#07c573" />
<rect x="592.37" y="307.9" width="1.1" height="17.0" fill="#f70c52" fill-opacity="0.92"/>
<rect x="590.72" y="311.3" width="4.4" height="7.6" fill="#f70c52" />
<rect x="597.90" y="314.9" width="1.1" height="26.0" fill="#f70c52" fill-opacity="0.92"/>
<rect x="596.25" y="318.9" width="4.4" height="17.6" fill="#f70c52" />
<rect x="603.43" y="318.3" width="1.1" height="18.2" fill="#07c573" fill-opacity="0.92"/>
<rect x="601.78" y="321.9" width="4.4" height="11.0" fill="#07c573" />
<rect x="608.96" y="312.9" width="1.1" height="20.0" fill="#f70c52" fill-opacity="0.92"/>
<rect x="607.31" y="323.9" width="4.4" height="2.6" fill="#f70c52" />
<rect x="614.49" y="317.5" width="1.1" height="12.8" fill="#07c573" fill-opacity="0.92"/>
<rect x="612.84" y="324.5" width="4.4" height="5.0" fill="#07c573" />
<rect x="620.02" y="320.5" width="1.1" height="13.4" fill="#f70c52" fill-opacity="0.92"/>
<rect x="618.37" y="324.3" width="4.4" height="3.6" fill="#f70c52" />
<rect x="625.55" y="319.3" width="1.1" height="9.6" fill="#07c573" fill-opacity="0.92"/>
<rect x="623.90" y="322.9" width="4.4" height="5.0" fill="#07c573" />
<rect x="631.08" y="320.5" width="1.1" height="11.4" fill="#f70c52" fill-opacity="0.92"/>
<rect x="629.43" y="323.9" width="4.4" height="6.4" fill="#f70c52" />
<rect x="636.62" y="327.9" width="1.1" height="12.0" fill="#07c573" fill-opacity="0.92"/>
<rect x="634.96" y="329.9" width="4.4" height="1.2" fill="#07c573" />
<rect x="642.15" y="312.3" width="1.1" height="20.0" fill="#07c573" fill-opacity="0.92"/>
<rect x="640.50" y="316.5" width="4.4" height="15.0" fill="#07c573" />
<rect x="647.68" y="300.9" width="1.1" height="32.0" fill="#f70c52" fill-opacity="0.92"/>
<rect x="646.03" y="315.9" width="4.4" height="12.4" fill="#f70c52" />
<rect x="653.21" y="309.9" width="1.1" height="20.3" fill="#07c573" fill-opacity="0.92"/>
<rect x="651.56" y="319.0" width="4.4" height="9.6" fill="#07c573" />
<rect x="658.74" y="307.9" width="1.1" height="17.9" fill="#07c573" fill-opacity="0.92"/>
<rect x="657.09" y="313.2" width="4.4" height="8.8" fill="#07c573" />
<rect x="664.27" y="308.9" width="1.1" height="18.9" fill="#f70c52" fill-opacity="0.92"/>
<rect x="662.62" y="313.9" width="4.4" height="6.9" fill="#f70c52" />
<rect x="669.80" y="298.9" width="1.1" height="17.0" fill="#f70c52" fill-opacity="0.92"/>
<rect x="668.15" y="302.9" width="4.4" height="5.6" fill="#f70c52" />
<rect x="675.33" y="306.9" width="1.1" height="17.9" fill="#f70c52" fill-opacity="0.92"/>
<rect x="673.68" y="307.5" width="4.4" height="9.0" fill="#f70c52" />
<rect x="680.86" y="309.9" width="1.1" height="7.9" fill="#07c573" fill-opacity="0.92"/>
<rect x="679.21" y="312.9" width="4.4" height="4.4" fill="#07c573" />
<rect x="686.39" y="303.5" width="1.1" height="12.4" fill="#07c573" fill-opacity="0.92"/>
<rect x="684.74" y="307.9" width="4.4" height="7.0" fill="#07c573" />
<rect x="691.93" y="297.5" width="1.1" height="12.8" fill="#07c573" fill-opacity="0.92"/>
<rect x="690.27" y="301.5" width="4.4" height="7.4" fill="#07c573" />
<rect x="697.46" y="291.9" width="1.1" height="14.0" fill="#07c573" fill-opacity="0.92"/>
<rect x="695.81" y="296.9" width="4.4" height="6.6" fill="#07c573" />
<rect x="702.99" y="292.9" width="1.1" height="16.0" fill="#f70c52" fill-opacity="0.92"/>
<rect x="701.34" y="298.5" width="4.4" height="10.0" fill="#f70c52" />
<rect x="708.52" y="298.9" width="1.1" height="14.6" fill="#07c573" fill-opacity="0.92"/>
<rect x="706.87" y="300.5" width="4.4" height="6.4" fill="#07c573" />
<rect x="714.05" y="282.9" width="1.1" height="21.4" fill="#07c573" fill-opacity="0.92"/>
<rect x="712.40" y="295.9" width="4.4" height="5.6" fill="#07c573" />
<rect x="719.58" y="294.5" width="1.1" height="23.8" fill="#f70c52" fill-opacity="0.92"/>
<rect x="717.93" y="295.9" width="4.4" height="21.6" fill="#f70c52" />
<rect x="725.11" y="308.9" width="1.1" height="8.9" fill="#07c573" fill-opacity="0.92"/>
<rect x="723.46" y="311.3" width="4.4" height="5.6" fill="#07c573" />
<rect x="730.64" y="305.9" width="1.1" height="12.9" fill="#07c573" fill-opacity="0.92"/>
<rect x="728.99" y="308.9" width="4.4" height="3.6" fill="#07c573" />
<rect x="736.17" y="300.9" width="1.1" height="13.0" fill="#07c573" fill-opacity="0.92"/>
<rect x="734.52" y="301.3" width="4.4" height="11.0" fill="#07c573" />
<rect x="741.70" y="298.9" width="1.1" height="12.0" fill="#f70c52" fill-opacity="0.92"/>
<rect x="740.05" y="301.9" width="4.4" height="6.0" fill="#f70c52" />
<rect x="747.24" y="296.3" width="1.1" height="13.6" fill="#07c573" fill-opacity="0.92"/>
<rect x="745.58" y="299.3" width="4.4" height="8.6" fill="#07c573" />
<rect x="752.77" y="297.9" width="1.1" height="18.6" fill="#f70c52" fill-opacity="0.92"/>
<rect x="751.12" y="300.9" width="4.4" height="12.0" fill="#f70c52" />
<rect x="758.30" y="308.5" width="1.1" height="20.3" fill="#f70c52" fill-opacity="0.92"/>
<rect x="756.65" y="311.9" width="4.4" height="12.3" fill="#f70c52" />
<rect x="763.83" y="318.4" width="1.1" height="21.4" fill="#f70c52" fill-opacity="0.92"/>
<rect x="762.18" y="325.8" width="4.4" height="10.6" fill="#f70c52" />
<rect x="769.36" y="328.8" width="1.1" height="19.0" fill="#f70c52" fill-opacity="0.92"/>
<rect x="767.71" y="335.8" width="4.4" height="5.0" fill="#f70c52" />
<rect x="774.89" y="324.2" width="1.1" height="19.2" fill="#07c573" fill-opacity="0.92"/>
<rect x="773.24" y="325.2" width="4.4" height="16.6" fill="#07c573" />
<rect x="780.42" y="256.9" width="1.1" height="43.5" fill="#07c573" fill-opacity="0.92"/>
<rect x="778.77" y="258.9" width="4.4" height="33.0" fill="#07c573" />
<rect x="785.95" y="236.2" width="1.1" height="33.0" fill="#07c573" fill-opacity="0.92"/>
<rect x="784.30" y="239.0" width="4.4" height="20.9" fill="#07c573" />
<rect x="791.48" y="215.0" width="1.1" height="26.3" fill="#07c573" fill-opacity="0.92"/>
<rect x="789.83" y="226.6" width="4.4" height="11.3" fill="#07c573" />
<rect x="797.01" y="223.0" width="1.1" height="25.9" fill="#f70c52" fill-opacity="0.92"/>
<rect x="795.36" y="225.6" width="4.4" height="17.9" fill="#f70c52" />
<rect x="802.55" y="241.5" width="1.1" height="32.4" fill="#f70c52" fill-opacity="0.92"/>
<rect x="800.89" y="246.9" width="4.4" height="26.0" fill="#f70c52" />
<rect x="808.08" y="250.3" width="1.1" height="12.6" fill="#07c573" fill-opacity="0.92"/>
<rect x="806.43" y="253.9" width="4.4" height="6.0" fill="#07c573" />
<rect x="813.61" y="245.9" width="1.1" height="36.4" fill="#f70c52" fill-opacity="0.92"/>
<rect x="811.96" y="255.5" width="4.4" height="13.0" fill="#f70c52" />
<rect x="819.14" y="259.3" width="1.1" height="18.6" fill="#07c573" fill-opacity="0.92"/>
<rect x="817.49" y="263.5" width="4.4" height="5.0" fill="#07c573" />
<rect x="824.67" y="247.5" width="1.1" height="28.4" fill="#f70c52" fill-opacity="0.92"/>
<rect x="823.02" y="263.5" width="4.4" height="6.4" fill="#f70c52" />
<rect x="830.20" y="267.3" width="1.1" height="26.2" fill="#07c573" fill-opacity="0.92"/>
<rect x="828.55" y="267.3" width="4.4" height="3.6" fill="#07c573" />
<rect x="835.73" y="252.9" width="1.1" height="21.6" fill="#f70c52" fill-opacity="0.92"/>
<rect x="834.08" y="269.3" width="4.4" height="1.2" fill="#f70c52" />
<rect x="841.26" y="245.9" width="1.1" height="28.4" fill="#07c573" fill-opacity="0.92"/>
<rect x="839.61" y="252.5" width="4.4" height="18.4" fill="#07c573" />
<rect x="846.79" y="250.3" width="1.1" height="22.2" fill="#f70c52" fill-opacity="0.92"/>
<rect x="845.14" y="252.9" width="4.4" height="3.0" fill="#f70c52" />
<rect x="852.32" y="241.5" width="1.1" height="15.4" fill="#07c573" fill-opacity="0.92"/>
<rect x="850.67" y="248.5" width="4.4" height="8.4" fill="#07c573" />
<rect x="857.86" y="238.3" width="1.1" height="14.6" fill="#07c573" fill-opacity="0.92"/>
<rect x="856.20" y="246.3" width="4.4" height="4.0" fill="#07c573" />
<rect x="863.39" y="233.9" width="1.1" height="12.4" fill="#07c573" fill-opacity="0.92"/>
<rect x="861.74" y="239.9" width="4.4" height="4.0" fill="#07c573" />
<rect x="868.92" y="238.9" width="1.1" height="38.0" fill="#f70c52" fill-opacity="0.92"/>
<rect x="867.27" y="239.9" width="4.4" height="35.0" fill="#f70c52" />
<rect x="874.45" y="271.9" width="1.1" height="23.4" fill="#f70c52" fill-opacity="0.92"/>
<rect x="872.80" y="272.9" width="4.4" height="7.0" fill="#f70c52" />
<rect x="879.98" y="250.3" width="1.1" height="37.6" fill="#07c573" fill-opacity="0.92"/>
<rect x="878.33" y="259.9" width="4.4" height="21.4" fill="#07c573" />
<rect x="885.51" y="256.3" width="1.1" height="16.6" fill="#f70c52" fill-opacity="0.92"/>
<rect x="883.86" y="259.9" width="4.4" height="3.0" fill="#f70c52" />
<rect x="891.04" y="259.9" width="1.1" height="12.0" fill="#07c573" fill-opacity="0.92"/>
<rect x="889.39" y="261.5" width="4.4" height="6.4" fill="#07c573" />
<rect x="896.57" y="259.5" width="1.1" height="47.4" fill="#f70c52" fill-opacity="0.92"/>
<rect x="894.92" y="259.9" width="4.4" height="45.0" fill="#f70c52" />
<rect x="902.10" y="283.9" width="1.1" height="36.5" fill="#07c573" fill-opacity="0.92"/>
<rect x="900.45" y="285.9" width="4.4" height="18.0" fill="#07c573" />
<rect x="907.63" y="281.5" width="1.1" height="17.8" fill="#07c573" fill-opacity="0.92"/>
<rect x="905.98" y="285.5" width="4.4" height="1.6" fill="#07c573" />
<rect x="913.16" y="269.6" width="1.1" height="23.6" fill="#07c573" fill-opacity="0.92"/>
<rect x="911.51" y="271.8" width="4.4" height="17.6" fill="#07c573" />
<rect x="918.70" y="250.3" width="1.1" height="25.1" fill="#07c573" fill-opacity="0.92"/>
<rect x="917.05" y="253.9" width="4.4" height="12.6" fill="#07c573" />
<rect x="924.23" y="250.3" width="1.1" height="15.2" fill="#f70c52" fill-opacity="0.92"/>
<rect x="922.58" y="254.9" width="4.4" height="5.6" fill="#f70c52" />
<rect x="929.76" y="244.9" width="1.1" height="16.6" fill="#07c573" fill-opacity="0.92"/>
<rect x="928.11" y="249.3" width="4.4" height="9.6" fill="#07c573" />
<rect x="935.29" y="235.9" width="1.1" height="19.6" fill="#07c573" fill-opacity="0.92"/>
<rect x="933.64" y="239.5" width="4.4" height="11.8" fill="#07c573" />
<rect x="940.82" y="236.9" width="1.1" height="29.0" fill="#f70c52" fill-opacity="0.92"/>
<rect x="939.17" y="239.9" width="4.4" height="6.0" fill="#f70c52" />
<rect x="946.35" y="228.5" width="1.1" height="23.4" fill="#07c573" fill-opacity="0.92"/>
<rect x="944.70" y="233.9" width="4.4" height="14.4" fill="#07c573" />
<rect x="951.88" y="224.9" width="1.1" height="17.0" fill="#07c573" fill-opacity="0.92"/>
<rect x="950.23" y="230.3" width="4.4" height="3.2" fill="#07c573" />
<rect x="957.41" y="214.3" width="1.1" height="23.6" fill="#07c573" fill-opacity="0.92"/>
<rect x="955.76" y="215.9" width="4.4" height="14.0" fill="#07c573" />
<rect x="962.94" y="189.0" width="1.1" height="34.9" fill="#07c573" fill-opacity="0.92"/>
<rect x="961.29" y="206.5" width="4.4" height="11.4" fill="#07c573" />
<rect x="968.48" y="202.9" width="1.1" height="29.4" fill="#f70c52" fill-opacity="0.92"/>
<rect x="966.82" y="204.9" width="4.4" height="19.0" fill="#f70c52" />
<rect x="974.01" y="205.9" width="1.1" height="16.6" fill="#07c573" fill-opacity="0.92"/>
<rect x="972.36" y="209.9" width="4.4" height="12.0" fill="#07c573" />
<rect x="979.54" y="204.3" width="1.1" height="16.2" fill="#f70c52" fill-opacity="0.92"/>
<rect x="977.89" y="211.3" width="4.4" height="2.2" fill="#f70c52" />
<rect x="985.07" y="183.0" width="1.1" height="31.9" fill="#07c573" fill-opacity="0.92"/>
<rect x="983.42" y="183.4" width="4.4" height="30.9" fill="#07c573" />
<rect x="990.60" y="183.6" width="1.1" height="13.3" fill="#f70c52" fill-opacity="0.92"/>
<rect x="988.95" y="184.4" width="4.4" height="4.6" fill="#f70c52" />
<rect x="996.13" y="184.0" width="1.1" height="16.9" fill="#f70c52" fill-opacity="0.92"/>
<rect x="994.48" y="188.6" width="4.4" height="5.4" fill="#f70c52" />
<rect x="1001.66" y="191.0" width="1.1" height="25.9" fill="#f70c52" fill-opacity="0.92"/>
<rect x="1000.01" y="195.4" width="4.4" height="18.9" fill="#f70c52" />
<rect x="1007.19" y="199.9" width="1.1" height="15.6" fill="#07c573" fill-opacity="0.92"/>
<rect x="1005.54" y="204.9" width="4.4" height="9.0" fill="#07c573" />
<rect x="1012.72" y="181.6" width="1.1" height="25.7" fill="#07c573" fill-opacity="0.92"/>
<rect x="1011.07" y="182.0" width="4.4" height="25.3" fill="#07c573" />
<rect x="1018.25" y="181.4" width="1.1" height="15.5" fill="#f70c52" fill-opacity="0.92"/>
<rect x="1016.60" y="181.4" width="4.4" height="11.2" fill="#f70c52" />
<rect x="1023.78" y="182.0" width="1.1" height="17.9" fill="#07c573" fill-opacity="0.92"/>
<rect x="1022.13" y="185.6" width="4.4" height="7.8" fill="#07c573" />
<rect x="1029.32" y="173.0" width="1.1" height="21.0" fill="#07c573" fill-opacity="0.92"/>
<rect x="1027.67" y="175.0" width="4.4" height="15.0" fill="#07c573" />
<rect x="1034.85" y="154.3" width="1.1" height="22.6" fill="#07c573" fill-opacity="0.92"/>
<rect x="1033.20" y="159.9" width="4.4" height="17.0" fill="#07c573" />
<rect x="1040.38" y="154.9" width="1.1" height="11.4" fill="#07c573" fill-opacity="0.92"/>
<rect x="1038.73" y="156.9" width="4.4" height="4.0" fill="#07c573" />
<rect x="1045.91" y="156.9" width="1.1" height="15.0" fill="#f70c52" fill-opacity="0.92"/>
<rect x="1044.26" y="158.5" width="4.4" height="7.8" fill="#f70c52" />
<rect x="1051.44" y="157.9" width="1.1" height="14.0" fill="#07c573" fill-opacity="0.92"/>
<rect x="1049.79" y="163.9" width="4.4" height="1.2" fill="#07c573" />
<rect x="1056.97" y="159.9" width="1.1" height="26.0" fill="#f70c52" fill-opacity="0.92"/>
<rect x="1055.32" y="160.9" width="4.4" height="16.0" fill="#f70c52" />
<rect x="1062.50" y="170.3" width="1.1" height="20.5" fill="#07c573" fill-opacity="0.92"/>
<rect x="1060.85" y="176.5" width="4.4" height="2.4" fill="#07c573" />
<rect x="1068.03" y="162.9" width="1.1" height="23.0" fill="#07c573" fill-opacity="0.92"/>
<rect x="1066.38" y="166.3" width="4.4" height="10.6" fill="#07c573" />
<rect x="1073.56" y="153.3" width="1.1" height="19.6" fill="#f70c52" fill-opacity="0.92"/>
<rect x="1071.91" y="166.9" width="4.4" height="2.0" fill="#f70c52" />
<rect x="1079.09" y="118.3" width="1.1" height="50.6" fill="#07c573" fill-opacity="0.92"/>
<rect x="1077.44" y="120.3" width="4.4" height="48.6" fill="#07c573" />
<rect x="1084.63" y="109.5" width="1.1" height="16.0" fill="#07c573" fill-opacity="0.92"/>
<rect x="1082.98" y="111.9" width="4.4" height="1.2" fill="#07c573" />
<rect x="1090.16" y="112.5" width="1.1" height="19.4" fill="#f70c52" fill-opacity="0.92"/>
<rect x="1088.51" y="114.9" width="4.4" height="3.0" fill="#f70c52" />
<rect x="1095.69" y="113.9" width="1.1" height="21.0" fill="#f70c52" fill-opacity="0.92"/>
<rect x="1094.04" y="117.3" width="4.4" height="9.0" fill="#f70c52" />
<rect x="1101.22" y="110.9" width="1.1" height="19.0" fill="#07c573" fill-opacity="0.92"/>
<rect x="1099.57" y="113.3" width="4.4" height="9.6" fill="#07c573" />
<rect x="1106.75" y="113.5" width="1.1" height="15.4" fill="#f70c52" fill-opacity="0.92"/>
<rect x="1105.10" y="113.9" width="4.4" height="9.0" fill="#f70c52" />
<rect x="1112.28" y="117.9" width="1.1" height="10.6" fill="#f70c52" fill-opacity="0.92"/>
<rect x="1110.63" y="122.5" width="4.4" height="3.8" fill="#f70c52" />
<rect x="1117.81" y="115.9" width="1.1" height="16.4" fill="#07c573" fill-opacity="0.92"/>
<rect x="1116.16" y="117.9" width="4.4" height="9.0" fill="#07c573" />
<rect x="1123.34" y="112.3" width="1.1" height="10.6" fill="#07c573" fill-opacity="0.92"/>
<rect x="1121.69" y="117.5" width="4.4" height="1.2" fill="#07c573" />
<rect x="1128.87" y="105.5" width="1.1" height="22.4" fill="#07c573" fill-opacity="0.92"/>
<rect x="1127.22" y="105.9" width="4.4" height="16.0" fill="#07c573" />
<rect x="1134.40" y="99.9" width="1.1" height="14.0" fill="#f70c52" fill-opacity="0.92"/>
<rect x="1132.75" y="106.9" width="4.4" height="5.0" fill="#f70c52" />
<rect x="1139.94" y="106.9" width="1.1" height="14.4" fill="#f70c52" fill-opacity="0.92"/>
<rect x="1138.29" y="110.5" width="4.4" height="10.0" fill="#f70c52" />
<rect x="1145.47" y="116.9" width="1.1" height="14.8" fill="#f70c52" fill-opacity="0.92"/>
<rect x="1143.82" y="120.3" width="4.4" height="2.6" fill="#f70c52" />
<rect x="1151.00" y="102.3" width="1.1" height="23.0" fill="#07c573" fill-opacity="0.92"/>
<rect x="1149.35" y="107.9" width="4.4" height="16.0" fill="#07c573" />
<rect x="1156.53" y="85.8" width="1.1" height="22.7" fill="#07c573" fill-opacity="0.92"/>
<rect x="1154.88" y="86.2" width="4.4" height="19.7" fill="#07c573" />
<rect x="1162.06" y="64.0" width="1.1" height="27.5" fill="#07c573" fill-opacity="0.92"/>
<rect x="1160.41" y="74.9" width="4.4" height="13.0" fill="#07c573" />
<rect x="1167.59" y="66.9" width="1.1" height="26.0" fill="#f70c52" fill-opacity="0.92"/>
<rect x="1165.94" y="75.3" width="4.4" height="9.6" fill="#f70c52" />
<rect x="1173.12" y="81.3" width="1.1" height="21.6" fill="#f70c52" fill-opacity="0.92"/>
<rect x="1171.47" y="86.3" width="4.4" height="12.6" fill="#f70c52" />
<rect x="1178.65" y="97.9" width="1.1" height="15.0" fill="#f70c52" fill-opacity="0.92"/>
<rect x="1177.00" y="98.5" width="4.4" height="13.4" fill="#f70c52" />
<rect x="1184.18" y="96.9" width="1.1" height="27.0" fill="#07c573" fill-opacity="0.92"/>
<rect x="1182.53" y="97.9" width="4.4" height="25.0" fill="#07c573" />
<rect x="1189.71" y="77.5" width="1.1" height="28.0" fill="#07c573" fill-opacity="0.92"/>
<rect x="1188.06" y="92.3" width="4.4" height="6.6" fill="#07c573" />
<rect x="1195.25" y="89.9" width="1.1" height="19.6" fill="#f70c52" fill-opacity="0.92"/>
<rect x="1193.60" y="92.3" width="4.4" height="1.2" fill="#f70c52" />
<rect x="1200.78" y="69.5" width="1.1" height="27.4" fill="#07c573" fill-opacity="0.92"/>
<rect x="1199.13" y="70.9" width="4.4" height="23.0" fill="#07c573" />
<rect x="1206.31" y="55.0" width="1.1" height="45.9" fill="#f70c52" fill-opacity="0.92"/>
<rect x="1204.66" y="72.9" width="4.4" height="22.0" fill="#f70c52" />
<rect x="1211.84" y="100.9" width="1.1" height="42.3" fill="#f70c52" fill-opacity="0.92"/>
<rect x="1210.19" y="107.9" width="4.4" height="13.0" fill="#f70c52" />
<rect x="1217.37" y="107.5" width="1.1" height="31.9" fill="#f70c52" fill-opacity="0.92"/>
<rect x="1215.72" y="121.9" width="4.4" height="2.0" fill="#f70c52" />
<polyline points="1.1,663.0 6.6,652.6 12.2,658.0 17.7,658.0 23.2,650.4 28.8,662.4 34.3,664.0 39.8,666.6 45.3,662.0 50.9,678.0 56.4,688.0 61.9,692.0 67.5,694.0 73.0,681.0 78.5,688.0 84.1,686.0 89.6,681.0 95.1,678.0 100.7,684.0 106.2,678.6 111.7,678.4 117.3,680.6 122.8,679.0 128.3,671.4 133.8,671.0 139.4,665.0 144.9,667.0 150.4,667.4 156.0,668.0 161.5,655.4 167.0,659.0 172.6,668.0 178.1,673.2 183.6,668.6 189.2,657.4 194.7,656.0 200.2,647.0 205.7,644.6 211.3,656.0 216.8,660.6 222.3,663.6 227.9,663.0 233.4,663.0 238.9,668.4 244.5,665.6 250.0,667.4 255.5,662.0 261.1,655.6 266.6,654.4 272.1,661.0 277.7,666.0 283.2,670.0 288.7,660.6 294.2,669.0 299.8,661.0 305.3,655.0 310.8,654.6 316.4,658.0 321.9,656.0 327.4,661.0 333.0,659.4 338.5,653.0 344.0,665.6 349.6,668.6 355.1,660.6 360.6,657.0 366.1,650.0 371.7,653.6 377.2,647.0 382.7,650.0 388.3,648.4 393.8,654.4 399.3,661.6 404.9,672.0 410.4,658.4 415.9,663.6 421.5,655.6 427.0,652.4 432.5,656.0 438.0,658.0 443.6,656.0 449.1,661.0 454.6,655.4 460.2,662.4 465.7,656.4 471.2,655.0 476.8,662.0 482.3,665.6 487.8,661.4 493.4,665.4 498.9,666.6 504.4,667.4 510.0,669.0 515.5,672.0 521.0,661.0 526.5,688.0 532.1,690.0 537.6,683.0 543.1,678.0 548.7,670.0 554.2,663.0 559.7,661.0 565.3,657.0 570.8,653.6 576.3,656.0 581.9,660.6 587.4,659.0 592.9,663.0 598.4,673.0 604.0,666.4 609.5,668.6 615.0,668.4 620.6,669.4 626.1,666.6 631.6,671.4 637.2,671.4 642.7,662.6 648.2,670.0 653.8,665.0 659.3,662.0 664.8,666.6 670.4,659.6 675.9,665.0 681.4,663.0 686.9,660.0 692.5,656.6 698.0,654.0 703.5,662.6 709.1,658.4 714.6,655.0 720.1,672.0 725.7,668.4 731.2,667.0 736.7,661.6 742.3,666.4 747.8,661.0 753.3,670.0 758.8,678.0 764.4,685.0 769.9,688.0 775.4,677.0 781.0,646.0 786.5,641.0 792.0,637.6 797.6,649.6 803.1,661.6 808.6,656.0 814.2,662.0 819.7,660.4 825.2,663.4 830.8,662.4 836.3,663.6 841.8,656.6 847.3,658.4 852.9,656.0 858.4,654.6 863.9,652.0 869.5,671.0 875.0,674.0 880.5,664.6 886.1,666.0 891.6,665.6 897.1,685.0 902.7,676.4 908.2,676.6 913.7,669.4 919.2,662.0 924.8,665.4 930.3,661.0 935.8,657.0 941.4,660.0 946.9,655.6 952.4,654.4 958.0,649.0 963.5,645.4 969.0,656.0 974.6,650.6 980.1,652.4 985.6,643.0 991.1,646.0 996.7,649.4 1002.2,661.0 1007.7,657.4 1013.3,649.4 1018.8,654.6 1024.3,652.6 1029.9,648.6 1035.4,644.0 1040.9,643.4 1046.5,649.4 1052.0,648.4 1057.5,656.6 1063.1,656.6 1068.6,652.0 1074.1,652.4 1079.6,636.0 1085.2,634.4 1090.7,637.0 1096.2,644.0 1101.8,640.4 1107.3,645.6 1112.8,648.4 1118.4,645.6 1123.9,645.4 1129.4,641.0 1135.0,644.6 1140.5,652.0 1146.0,654.0 1151.5,647.0 1157.1,639.0 1162.6,635.4 1168.1,643.0 1173.7,653.0 1179.2,661.4 1184.7,655.6 1190.3,653.0 1195.8,652.6 1201.3,644.4 1206.9,660.0 1212.4,673.0 1217.9,674.0" fill="none" stroke="#8154c9" stroke-width="1.2" stroke-linejoin="round" stroke-linecap="round" />
<path d="M1251 43.7 L1222.7 68.9 M1223.2 63.3 L1222.7 68.9 L1229.4 69.5" fill="none" stroke="#111" stroke-width="1.1" stroke-linecap="round" stroke-linejoin="round"/>
<path d="M857.7 336.4 L780.4 314 M786.2 311.2 L780.4 314 L783.8 319.3" fill="none" stroke="#111" stroke-width="1.1" stroke-linecap="round" stroke-linejoin="round"/>
<path d="M1172.4 679.4 L1207.4 675 M1197 668 L1207.4 675 L1198.6 685.4" fill="none" stroke="#111" stroke-width="1.8" stroke-linecap="round" stroke-linejoin="round"/>
<text x="565.6" y="58.8" font-size="12" fill="#101010" font-weight="bold" textLength="202.8" lengthAdjust="spacingAndGlyphs" >Friday and 16 year highs 214.834</text>
<text x="816" y="49.7" font-size="15.5" fill="#15244f" font-weight="bold" textLength="274" lengthAdjust="spacingAndGlyphs" >2008 Resistance from 214.80 to 216.00</text>
<text x="1186.7" y="30.5" font-size="11.8" fill="#101010" font-weight="bold" textLength="97.7" lengthAdjust="spacingAndGlyphs" >Yen Intervention</text>
<text x="1186.7" y="42.6" font-size="11.8" fill="#101010" font-weight="bold" textLength="42.6" lengthAdjust="spacingAndGlyphs" >rumors</text>
<text x="347" y="100.0" font-size="15.5" fill="#101010" font-weight="bold" textLength="194" lengthAdjust="spacingAndGlyphs" >212.00 to 213.00 resistance</text>
<text x="346" y="143.6" font-size="12.5" fill="#101010" font-weight="bold" textLength="313" lengthAdjust="spacingAndGlyphs" >209.50 to 210.50 May 2008 Extremes Current Pivot</text>
<text x="351" y="185" font-size="12.5" fill="#101010" font-weight="bold" textLength="294" lengthAdjust="spacingAndGlyphs" >207.00 to 208.00 2024 July highs – Current test</text>
<text x="351" y="221.6" font-size="12.5" fill="#15244f" font-weight="bold" textLength="323" lengthAdjust="spacingAndGlyphs" >Post-Takaichi Election highs 205.00 – Pivotal Support</text>
<text transform="translate(608.4,246.2) rotate(-17.3)" font-size="12.5" font-weight="bold" font-style="italic" fill="#2962ff" textLength="168.5" lengthAdjust="spacingAndGlyphs">April 2025 Upward Channel</text>
<text x="1220.6" y="161.5" font-size="14.5" fill="#fb9f2e" font-weight="bold" textLength="42.6" lengthAdjust="spacingAndGlyphs" >MA 50</text>
<text x="1185.7" y="172.7" font-size="13" fill="#1c2a4c" textLength="141.4" lengthAdjust="spacingAndGlyphs" >208.120 July 2024 highs</text>
<text x="1177" y="287.9" font-size="11.8" fill="#2a2e39" textLength="151" lengthAdjust="spacingAndGlyphs" >201.27 pre-October BoJ highs</text>
<text x="949" y="315" font-size="15.5" fill="#101010" font-weight="bold" textLength="311" lengthAdjust="spacingAndGlyphs" >Main Psychological Support 199.00 to 200.00</text>
<text x="1076.4" y="344" font-size="15.5" fill="#f5235f" font-weight="bold" textLength="52.5" lengthAdjust="spacingAndGlyphs" >MA 200</text>
<text x="860.6" y="352.9" font-size="12.3" fill="#101010" font-weight="bold" textLength="106.8" lengthAdjust="spacingAndGlyphs" >LDP elections gap</text>
<text x="1207.5" y="393.4" font-size="12.5" fill="#101010" font-weight="bold" textLength="120" lengthAdjust="spacingAndGlyphs" >195.00 August lows</text>
<text x="694" y="493.6" font-size="12.5" fill="#101010" font-weight="bold" textLength="233" lengthAdjust="spacingAndGlyphs" >Intermediate Support 188.00 - 190.00</text>
<text x="689" y="570.1" font-size="12.5" fill="#101010" font-weight="bold" textLength="184" lengthAdjust="spacingAndGlyphs" >Main Support 184.00 - 185.00</text>
<rect x="1335.0" y="0" width="65.5" height="736" fill="#ffffff" />
<line x1="0" y1="625.4" x2="1400" y2="625.4" stroke="#e0e3eb" stroke-width="1" />
<text x="1344" y="612.6" font-size="12.6" fill="#131722" textLength="47.6" lengthAdjust="spacingAndGlyphs" >182.000</text>
<text x="1344" y="578.9" font-size="12.6" fill="#131722" textLength="47.6" lengthAdjust="spacingAndGlyphs" >184.000</text>
<text x="1344" y="545.2" font-size="12.6" fill="#131722" textLength="47.6" lengthAdjust="spacingAndGlyphs" >186.000</text>
<text x="1344" y="511.5" font-size="12.6" fill="#131722" textLength="47.6" lengthAdjust="spacingAndGlyphs" >188.000</text>
<text x="1344" y="477.8" font-size="12.6" fill="#131722" textLength="47.6" lengthAdjust="spacingAndGlyphs" >190.000</text>
<text x="1344" y="444.1" font-size="12.6" fill="#131722" textLength="47.6" lengthAdjust="spacingAndGlyphs" >192.000</text>
<text x="1344" y="410.4" font-size="12.6" fill="#131722" textLength="47.6" lengthAdjust="spacingAndGlyphs" >194.000</text>
<text x="1344" y="376.7" font-size="12.6" fill="#131722" textLength="47.6" lengthAdjust="spacingAndGlyphs" >196.000</text>
<text x="1344" y="343.0" font-size="12.6" fill="#131722" textLength="47.6" lengthAdjust="spacingAndGlyphs" >198.000</text>
<text x="1344" y="309.3" font-size="12.6" fill="#131722" textLength="47.6" lengthAdjust="spacingAndGlyphs" >200.000</text>
<text x="1344" y="275.6" font-size="12.6" fill="#131722" textLength="47.6" lengthAdjust="spacingAndGlyphs" >202.000</text>
<text x="1344" y="241.9" font-size="12.6" fill="#131722" textLength="47.6" lengthAdjust="spacingAndGlyphs" >204.000</text>
<text x="1344" y="208.2" font-size="12.6" fill="#131722" textLength="47.6" lengthAdjust="spacingAndGlyphs" >206.000</text>
<text x="1344" y="174.5" font-size="12.6" fill="#131722" textLength="47.6" lengthAdjust="spacingAndGlyphs" >208.000</text>
<text x="1344" y="140.8" font-size="12.6" fill="#131722" textLength="47.6" lengthAdjust="spacingAndGlyphs" >210.000</text>
<text x="1344" y="107.1" font-size="12.6" fill="#131722" textLength="47.6" lengthAdjust="spacingAndGlyphs" >212.000</text>
<text x="1344" y="73.4" font-size="12.6" fill="#131722" textLength="47.6" lengthAdjust="spacingAndGlyphs" >214.000</text>
<text x="1344" y="39.7" font-size="12.6" fill="#131722" textLength="47.6" lengthAdjust="spacingAndGlyphs" >216.000</text>
<text x="1344" y="6.0" font-size="12.6" fill="#131722" textLength="47.6" lengthAdjust="spacingAndGlyphs" >218.000</text>
<text x="1343.6" y="660.2" font-size="12.6" fill="#131722" textLength="33" lengthAdjust="spacingAndGlyphs" >60.00</text>
<text x="1343.6" y="691.6" font-size="12.6" fill="#131722" textLength="33" lengthAdjust="spacingAndGlyphs" >40.00</text>
<path d="M1335 46.2 h60 a2 2 0 0 1 2 2 v14 a2 2 0 0 1 -2 2 h-60 z" fill="#1e3fc2"/>
<text x="1344" y="59.1" font-size="12.6" fill="#fff" textLength="47.6" lengthAdjust="spacingAndGlyphs" >214.834</text>
<path d="M1335 94.9 h60 a2 2 0 0 1 2 2 v13.899999999999999 a2 2 0 0 1 -2 2 h-60 z" fill="#7c4dff"/>
<text x="1344" y="108.0" font-size="12.6" fill="#fff" textLength="47.6" lengthAdjust="spacingAndGlyphs" >211.944</text>
<path d="M1335 114.2 h60 a2 2 0 0 1 2 2 v27.8 a2 2 0 0 1 -2 2 h-60 z" fill="#f70c52"/>
<text x="1344" y="127.0" font-size="12.6" fill="#fff" textLength="47.6" lengthAdjust="spacingAndGlyphs" >210.818</text>
<text x="1344" y="141.3" font-size="12.6" fill="#ffc6d4" textLength="33.5" lengthAdjust="spacingAndGlyphs" >07:46</text>
<path d="M1335 146 h60 a2 2 0 0 1 2 2 v13.2 a2 2 0 0 1 -2 2 h-60 z" fill="#ffa632"/>
<text x="1344" y="158.5" font-size="12.6" fill="#111" textLength="47.6" lengthAdjust="spacingAndGlyphs" >209.357</text>
<path d="M1335 163.6 h60 a2 2 0 0 1 2 2 v13.600000000000001 a2 2 0 0 1 -2 2 h-60 z" fill="#000000"/>
<text x="1344" y="176.5" font-size="12.6" fill="#fff" textLength="47.6" lengthAdjust="spacingAndGlyphs" >208.120</text>
<path d="M1335 274.6 h60 a2 2 0 0 1 2 2 v13.600000000000001 a2 2 0 0 1 -2 2 h-60 z" fill="#1e3fc2"/>
<text x="1344" y="287.7" font-size="12.6" fill="#fff" textLength="47.6" lengthAdjust="spacingAndGlyphs" >201.272</text>
<path d="M1335 292.2 h60 a2 2 0 0 1 2 2 v13.8 a2 2 0 0 1 -2 2 h-60 z" fill="#f70c52"/>
<text x="1344" y="305.2" font-size="12.6" fill="#fff" textLength="47.6" lengthAdjust="spacingAndGlyphs" >200.818</text>
<path d="M1335 380.6 h60 a2 2 0 0 1 2 2 v12.8 a2 2 0 0 1 -2 2 h-60 z" fill="#000000"/>
<text x="1344" y="393.1" font-size="12.6" fill="#fff" textLength="47.6" lengthAdjust="spacingAndGlyphs" >195.051</text>
<rect x="1335.4" y="665.6" width="46" height="18" rx="2" fill="#7e52c1"/>
<text x="1343.6" y="679" font-size="12.6" fill="#fff" textLength="33" lengthAdjust="spacingAndGlyphs" >48.13</text>
<text x="39.5" y="728" font-size="12.2" fill="#131722" text-anchor="middle" >Apr</text>
<text x="160.5" y="728" font-size="12.2" fill="#131722" text-anchor="middle" >May</text>
<text x="283" y="728" font-size="12.2" fill="#131722" text-anchor="middle" >Jun</text>
<text x="399" y="728" font-size="12.2" fill="#131722" text-anchor="middle" >Jul</text>
<text x="526" y="728" font-size="12.2" fill="#131722" text-anchor="middle" >Aug</text>
<text x="642" y="728" font-size="12.2" fill="#131722" text-anchor="middle" >Sep</text>
<text x="764" y="728" font-size="12.2" fill="#131722" text-anchor="middle" >Oct</text>
<text x="891" y="728" font-size="12.2" fill="#131722" text-anchor="middle" >Nov</text>
<text x="1001.5" y="728" font-size="12.2" fill="#131722" text-anchor="middle" >Dec</text>
<text x="1239.6" y="728" font-size="12.2" fill="#131722" text-anchor="middle" >Feb</text>
<text x="1123.6" y="728" font-size="12.2" fill="#131722" font-weight="bold" text-anchor="middle" textLength="31.5" lengthAdjust="spacingAndGlyphs" >2026</text>
<path d="M1361.3 724.2 L1364.5 718.6 L1371.1 718.6 L1374.3 724.2 L1371.1 729.8 L1364.5 729.8 Z" fill="none" stroke="#131722" stroke-width="1.2" stroke-linejoin="round"/>
<circle cx="1367.8" cy="724.2" r="2" fill="none" stroke="#131722" stroke-width="1.2"/>
<circle cx="16.8" cy="8" r="5.1" fill="#ffffff" stroke="#d9dde6" stroke-width="0.8"/>
<circle cx="16.8" cy="8.2" r="2.5" fill="#f0273e"/>
<circle cx="11.4" cy="13.75" r="6.3" fill="#ffffff"/>
<clipPath id="ukc"><circle cx="11.4" cy="13.75" r="5.5"/></clipPath>
<g clip-path="url(#ukc)"><rect x="5" y="7" width="13" height="13.5" fill="#1f47b4"/>
<path d="M6 8.35 L16.8 19.15 M16.8 8.35 L6 19.15" stroke="#fff" stroke-width="1.9"/>
<path d="M6 8.35 L16.8 19.15 M16.8 8.35 L6 19.15" stroke="#f0273e" stroke-width="0.7"/>
<path d="M11.4 7 V20.5 M5 13.75 H18" stroke="#fff" stroke-width="3.1"/>
<path d="M11.4 7 V20.5 M5 13.75 H18" stroke="#f0273e" stroke-width="1.8"/></g>
<text x="25.4" y="16.6" font-size="14.5" fill="#131722" textLength="269.5" lengthAdjust="spacingAndGlyphs" >British Pound / Japanese Yen · 1D · OANDA</text>
<path d="M310.6 3.6 H320.3 V18.9 H310.6 A7.65 7.65 0 0 1 310.6 3.6 Z" fill="#d5efe9"/>
<path d="M320.3 3.6 H330.2 A7.65 7.65 0 0 1 330.2 18.9 H320.3 Z" fill="#fbd6e0"/>
<circle cx="312.6" cy="11.3" r="3.5" fill="#0b8f72"/>
<text x="328.6" y="16.2" font-size="14" fill="#f70c52" font-weight="bold" text-anchor="middle" >≈</text>
<text x="344.6" y="15.7" font-size="12.2" fill="#2a2e39" textLength="8.6" lengthAdjust="spacingAndGlyphs" >O</text>
<text x="355.00000000000006" y="15.7" font-size="12.2" fill="#f70c52" textLength="44" lengthAdjust="spacingAndGlyphs" >210.878</text>
<text x="405.40000000000003" y="15.7" font-size="12.2" fill="#2a2e39" textLength="7.6" lengthAdjust="spacingAndGlyphs" >H</text>
<text x="414.80000000000007" y="15.7" font-size="12.2" fill="#f70c52" textLength="44" lengthAdjust="spacingAndGlyphs" >211.764</text>
<text x="465.20000000000005" y="15.7" font-size="12.2" fill="#2a2e39" textLength="6.2" lengthAdjust="spacingAndGlyphs" >L</text>
<text x="473.20000000000005" y="15.7" font-size="12.2" fill="#f70c52" textLength="44" lengthAdjust="spacingAndGlyphs" >209.801</text>
<text x="523.6" y="15.7" font-size="12.2" fill="#2a2e39" textLength="8.2" lengthAdjust="spacingAndGlyphs" >C</text>
<text x="533.6" y="15.7" font-size="12.2" fill="#f70c52" textLength="44" lengthAdjust="spacingAndGlyphs" >210.818</text>
<text x="583.5" y="15.7" font-size="12.2" fill="#f70c52" textLength="92" lengthAdjust="spacingAndGlyphs" >−0.144 (−0.07%)</text>
<rect x="0" y="24.5" width="187" height="17.5" fill="#ffffff" fill-opacity="0.78"/>
<text x="6.6" y="36.6" font-size="11.6" fill="#131722" textLength="22.5" lengthAdjust="spacingAndGlyphs" >MAs</text>
<text x="37.2" y="36.6" font-size="12.2" fill="#8453f7" textLength="44.3" lengthAdjust="spacingAndGlyphs" >211.944</text>
<text x="88.2" y="36.6" font-size="12.2" fill="#fba53a" textLength="44.3" lengthAdjust="spacingAndGlyphs" >209.357</text>
<text x="139.2" y="36.6" font-size="12.2" fill="#f5235f" textLength="44.3" lengthAdjust="spacingAndGlyphs" >200.818</text>
<rect x="5.7" y="46" width="24.6" height="17" rx="3" fill="#ffffff" stroke="#dcdde2" stroke-width="1"/>
<path d="M14.6 56.6 L18 53.2 L21.4 56.6" fill="none" stroke="#131722" stroke-width="1.4" stroke-linecap="round" stroke-linejoin="round"/>
<rect x="2" y="631.5" width="137" height="17" fill="#ffffff" fill-opacity="0.42"/>
<text x="6.4" y="644.2" font-size="11.6" fill="#2a2e39" textLength="17" lengthAdjust="spacingAndGlyphs" >RSI</text>
<text x="27.6" y="644.2" font-size="11.6" fill="#7b7f8a" textLength="43.5" lengthAdjust="spacingAndGlyphs" >14 close</text>
<circle cx="86.3" cy="640.8" r="7.2" fill="#e9dfff"/>
<path d="M82.4 639.6 A4.1 4.1 0 0 1 89.8 638.6 M90.2 642 A4.1 4.1 0 0 1 82.8 643" fill="none" stroke="#6a22ea" stroke-width="1.5" stroke-linecap="round"/>
<path d="M90.9 636.6 V639.2 H88.3 M81.7 645 V642.4 H84.3" fill="none" stroke="#6a22ea" stroke-width="1.3" stroke-linecap="round" stroke-linejoin="round"/>
<text x="102" y="644.2" font-size="12" fill="#8154c9" textLength="30.5" lengthAdjust="spacingAndGlyphs" >48.13</text>
<path d="M8.4 685 H19 V697.6 H14 V690 H8.4 Z" fill="#111" stroke="#f3eefb" stroke-width="3.2" stroke-linejoin="round" paint-order="stroke"/>
<circle cx="22.6" cy="687.5" r="2.5" fill="#111" stroke="#f3eefb" stroke-width="3.2" stroke-linejoin="round" paint-order="stroke"/>
<path d="M27 685 H35 L29.6 697.6 H21.8 Z" fill="#111" stroke="#f3eefb" stroke-width="3.2" stroke-linejoin="round" paint-order="stroke"/>
<text x="41" y="697.6" font-size="18" fill="#111" font-weight="bold" textLength="106" lengthAdjust="spacingAndGlyphs" stroke="#f3eefb" stroke-width="3.2" stroke-linejoin="round" paint-order="stroke">TradingView</text>
</svg></body></html>
